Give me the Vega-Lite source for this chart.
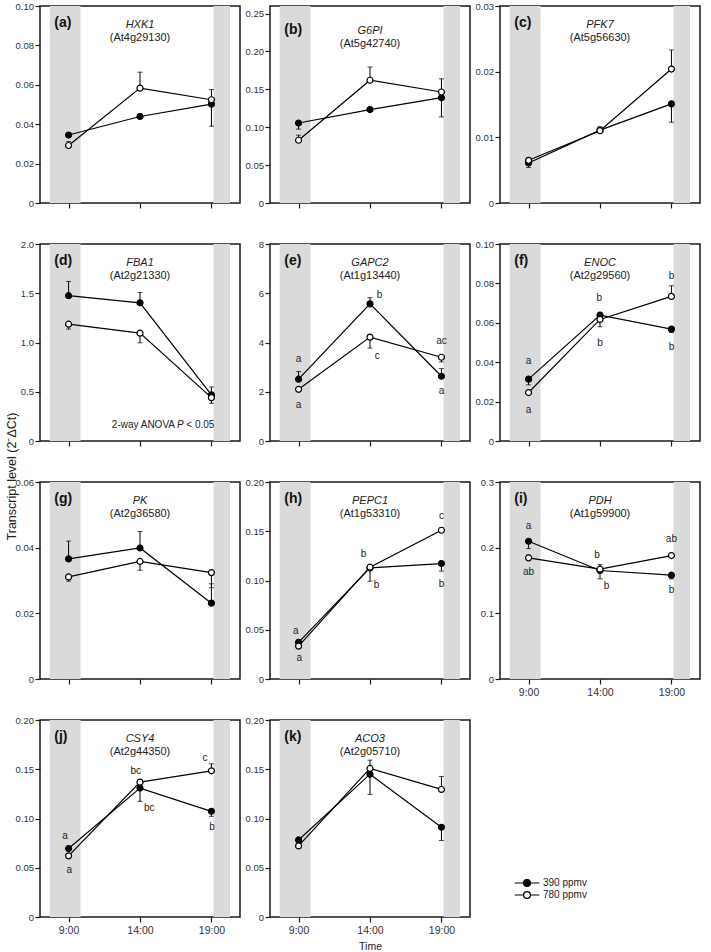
{
"$schema":"https://vega.github.io/schema/vega-lite/v6.json",
"padding":{"left":5,"top":0,"right":2,"bottom":0},
"title":{"text":"Transcript level (2⁻ΔCt)","orient":"left","anchor":"middle","fontSize":12.5,"fontWeight":"normal","color":"#222","offset":-4},
"datasets":{
"shade":[{"a":7.68,"b":9.84},{"a":19.15,"b":20.3}],
"info":[
{"g":"a","gene":"HXK1","locus":"(At4g29130)","lab":"(a)"},
{"g":"b","gene":"G6PI","locus":"(At5g42740)","lab":"(b)"},
{"g":"c","gene":"PFK7","locus":"(At5g56630)","lab":"(c)"},
{"g":"d","gene":"FBA1","locus":"(At2g21330)","lab":"(d)"},
{"g":"e","gene":"GAPC2","locus":"(At1g13440)","lab":"(e)"},
{"g":"f","gene":"ENOC","locus":"(At2g29560)","lab":"(f)"},
{"g":"g","gene":"PK","locus":"(At2g36580)","lab":"(g)"},
{"g":"h","gene":"PEPC1","locus":"(At1g53310)","lab":"(h)"},
{"g":"i","gene":"PDH","locus":"(At1g59900)","lab":"(i)"},
{"g":"j","gene":"CSY4","locus":"(At2g44350)","lab":"(j)"},
{"g":"k","gene":"ACO3","locus":"(At2g05710)","lab":"(k)"}],
"lt":[
{"g":"e","lx":9,"ly":3.35,"txt":"a"},{"g":"e","lx":9,"ly":1.46,"txt":"a"},{"g":"e","lx":14.67,"ly":5.92,"txt":"b"},{"g":"e","lx":14.5,"ly":3.46,"txt":"c"},{"g":"e","lx":19,"ly":4.07,"txt":"ac"},{"g":"e","lx":19,"ly":2.03,"txt":"a"},
{"g":"f","lx":9,"ly":0.0405,"txt":"a"},{"g":"f","lx":9,"ly":0.0158,"txt":"a"},{"g":"f","lx":13.95,"ly":0.0727,"txt":"b"},{"g":"f","lx":14,"ly":0.0498,"txt":"b"},{"g":"f","lx":19,"ly":0.0839,"txt":"b"},{"g":"f","lx":19,"ly":0.0478,"txt":"b"},
{"g":"h","lx":8.8,"ly":0.0486,"txt":"a"},{"g":"h","lx":9.05,"ly":0.0213,"txt":"a"},{"g":"h","lx":13.55,"ly":0.1264,"txt":"b"},{"g":"h","lx":14.45,"ly":0.0953,"txt":"b"},{"g":"h","lx":19,"ly":0.1652,"txt":"c"},{"g":"h","lx":19,"ly":0.0966,"txt":"b"},
{"g":"i","lx":9,"ly":0.2326,"txt":"a"},{"g":"i","lx":9,"ly":0.1632,"txt":"ab"},{"g":"i","lx":13.8,"ly":0.1895,"txt":"b"},{"g":"i","lx":14.45,"ly":0.1409,"txt":"b"},{"g":"i","lx":19,"ly":0.2139,"txt":"ab"},{"g":"i","lx":19,"ly":0.1348,"txt":"b"},
{"g":"j","lx":8.75,"ly":0.0823,"txt":"a"},{"g":"j","lx":9.05,"ly":0.0476,"txt":"a"},{"g":"j","lx":13.7,"ly":0.1487,"txt":"bc"},{"g":"j","lx":14.65,"ly":0.1106,"txt":"bc"},{"g":"j","lx":18.55,"ly":0.1619,"txt":"c"},{"g":"j","lx":19.05,"ly":0.0917,"txt":"b"}],
"d":[
{"g":"a","t":9,"s":"390 ppmv","v":0.0345,"e":0.0358},{"g":"a","t":9,"s":"780 ppmv","v":0.0292,"e":0.0312},
{"g":"a","t":14,"s":"390 ppmv","v":0.0439,"e":0.0452},{"g":"a","t":14,"s":"780 ppmv","v":0.0583,"e":0.0664},
{"g":"a","t":19,"s":"390 ppmv","v":0.0502,"e":0.039},{"g":"a","t":19,"s":"780 ppmv","v":0.0524,"e":0.0576},
{"g":"b","t":9,"s":"390 ppmv","v":0.1056,"e":0.0975},{"g":"b","t":9,"s":"780 ppmv","v":0.0828,"e":0.0895},
{"g":"b","t":14,"s":"390 ppmv","v":0.1233,"e":0.1245},{"g":"b","t":14,"s":"780 ppmv","v":0.162,"e":0.1795},
{"g":"b","t":19,"s":"390 ppmv","v":0.139,"e":0.1136},{"g":"b","t":19,"s":"780 ppmv","v":0.1465,"e":0.1639},
{"g":"c","t":9,"s":"390 ppmv","v":0.0061,"e":0.0054},{"g":"c","t":9,"s":"780 ppmv","v":0.0065,"e":0.0069},
{"g":"c","t":14,"s":"390 ppmv","v":0.0111,"e":0.0116},{"g":"c","t":14,"s":"780 ppmv","v":0.011,"e":0.0108},
{"g":"c","t":19,"s":"390 ppmv","v":0.0151,"e":0.0123},{"g":"c","t":19,"s":"780 ppmv","v":0.0204,"e":0.0233},
{"g":"d","t":9,"s":"390 ppmv","v":1.475,"e":1.62},{"g":"d","t":9,"s":"780 ppmv","v":1.186,"e":1.136},
{"g":"d","t":14,"s":"390 ppmv","v":1.403,"e":1.508},{"g":"d","t":14,"s":"780 ppmv","v":1.095,"e":0.997},
{"g":"d","t":19,"s":"390 ppmv","v":0.468,"e":0.549},{"g":"d","t":19,"s":"780 ppmv","v":0.44,"e":0.383},
{"g":"e","t":9,"s":"390 ppmv","v":2.51,"e":2.82},{"g":"e","t":9,"s":"780 ppmv","v":2.1,"e":2.0},
{"g":"e","t":14,"s":"390 ppmv","v":5.57,"e":5.82},{"g":"e","t":14,"s":"780 ppmv","v":4.22,"e":3.77},
{"g":"e","t":19,"s":"390 ppmv","v":2.63,"e":2.94},{"g":"e","t":19,"s":"780 ppmv","v":3.4,"e":3.21},
{"g":"f","t":9,"s":"390 ppmv","v":0.0314,"e":0.0285},{"g":"f","t":9,"s":"780 ppmv","v":0.0246,"e":0.024},
{"g":"f","t":14,"s":"390 ppmv","v":0.0639,"e":0.0645},{"g":"f","t":14,"s":"780 ppmv","v":0.0617,"e":0.058},
{"g":"f","t":19,"s":"390 ppmv","v":0.0568,"e":0.0551},{"g":"f","t":19,"s":"780 ppmv","v":0.0734,"e":0.0788},
{"g":"g","t":9,"s":"390 ppmv","v":0.0366,"e":0.042},{"g":"g","t":9,"s":"780 ppmv","v":0.0311,"e":0.0298},
{"g":"g","t":14,"s":"390 ppmv","v":0.0399,"e":0.0449},{"g":"g","t":14,"s":"780 ppmv","v":0.0358,"e":0.0331},
{"g":"g","t":19,"s":"390 ppmv","v":0.0231,"e":0.029},{"g":"g","t":19,"s":"780 ppmv","v":0.0324,"e":0.0278},
{"g":"h","t":9,"s":"390 ppmv","v":0.0372,"e":0.0385},{"g":"h","t":9,"s":"780 ppmv","v":0.0334,"e":0.032},
{"g":"h","t":14,"s":"390 ppmv","v":0.1128,"e":0.0993},{"g":"h","t":14,"s":"780 ppmv","v":0.1135,"e":0.1145},
{"g":"h","t":19,"s":"390 ppmv","v":0.1172,"e":0.1095},{"g":"h","t":19,"s":"780 ppmv","v":0.151,"e":0.1534},
{"g":"i","t":9,"s":"390 ppmv","v":0.2098,"e":0.1986},{"g":"i","t":9,"s":"780 ppmv","v":0.1845,"e":0.1885},
{"g":"i","t":14,"s":"390 ppmv","v":0.1652,"e":0.1525},{"g":"i","t":14,"s":"780 ppmv","v":0.1672,"e":0.1743},
{"g":"i","t":19,"s":"390 ppmv","v":0.1581,"e":0.1525},{"g":"i","t":19,"s":"780 ppmv","v":0.188,"e":0.19},
{"g":"j","t":9,"s":"390 ppmv","v":0.0695,"e":0.071},{"g":"j","t":9,"s":"780 ppmv","v":0.0621,"e":0.0635},
{"g":"j","t":14,"s":"390 ppmv","v":0.1309,"e":0.1174},{"g":"j","t":14,"s":"780 ppmv","v":0.1369,"e":0.139},
{"g":"j","t":19,"s":"390 ppmv","v":0.1073,"e":0.1022},{"g":"j","t":19,"s":"780 ppmv","v":0.1484,"e":0.1555},
{"g":"k","t":9,"s":"390 ppmv","v":0.0782,"e":0.08},{"g":"k","t":9,"s":"780 ppmv","v":0.0722,"e":0.0735},
{"g":"k","t":14,"s":"390 ppmv","v":0.145,"e":0.1245},{"g":"k","t":14,"s":"780 ppmv","v":0.1508,"e":0.1592},
{"g":"k","t":19,"s":"390 ppmv","v":0.0911,"e":0.0776},{"g":"k","t":19,"s":"780 ppmv","v":0.1295,"e":0.1427}]
},
"columns":3,
"spacing":{"row":41,"column":30},
"bounds":"flush",
"concat":[
{"width":200,"height":197,"layer":[
 {"data":{"name":"shade"},"mark":{"type":"rect","color":"#dadada"},"encoding":{"x":{"field":"a","type":"quantitative","scale":{"domain":[7.68,20.3]},"axis":{"values":[9,14,19],"labels":false,"title":null}},"x2":{"field":"b"}}},
 {"data":{"name":"d"},"transform":[{"filter":"datum.g=='a'"}],"layer":[
  {"mark":{"type":"rule","color":"#000","strokeWidth":1},"encoding":{"x":{"field":"t","type":"quantitative"},"y":{"field":"v","type":"quantitative","scale":{"domain":[0,0.1]},"axis":{"values":[0,0.02,0.04,0.06,0.08,0.1],"tickCount":20,"format":".2f","labelExpr":"datum.value==0?'0':datum.label","title":null}},"y2":{"field":"e"}}},
  {"mark":{"type":"tick","orient":"horizontal","size":5,"thickness":1,"color":"#000"},"encoding":{"x":{"field":"t","type":"quantitative"},"y":{"field":"e","type":"quantitative"}}},
  {"mark":{"type":"line","color":"#000","strokeWidth":1.2},"encoding":{"x":{"field":"t","type":"quantitative"},"y":{"field":"v","type":"quantitative"},"detail":{"field":"s"}}},
  {"mark":{"type":"point","shape":"circle","size":36,"filled":true,"opacity":1,"stroke":"#000","strokeWidth":1.2},"encoding":{"x":{"field":"t","type":"quantitative"},"y":{"field":"v","type":"quantitative"},"fill":{"field":"s","type":"nominal","title":null,"scale":{"domain":["390 ppmv","780 ppmv"],"range":["#000","#fff"]}}}}]},
 {"data":{"name":"info"},"transform":[{"filter":"datum.g=='a'"}],"layer":[
  {"mark":{"type":"text","fontSize":11,"fontStyle":"italic","color":"#222"},"encoding":{"x":{"datum":14},"y":{"datum":0.0906},"text":{"field":"gene"}}},
  {"mark":{"type":"text","fontSize":11,"color":"#222"},"encoding":{"x":{"datum":14},"y":{"datum":0.084},"text":{"field":"locus"}}},
  {"mark":{"type":"text","fontSize":14,"fontWeight":"bold","align":"left","color":"#111"},"encoding":{"x":{"datum":8.0},"y":{"datum":0.0914},"text":{"field":"lab"}}}]}
]},
{"width":200,"height":197,"layer":[
 {"data":{"name":"shade"},"mark":{"type":"rect","color":"#dadada"},"encoding":{"x":{"field":"a","type":"quantitative","scale":{"domain":[7.68,20.3]},"axis":{"values":[9,14,19],"labels":false,"title":null}},"x2":{"field":"b"}}},
 {"data":{"name":"d"},"transform":[{"filter":"datum.g=='b'"}],"layer":[
  {"mark":{"type":"rule","color":"#000","strokeWidth":1},"encoding":{"x":{"field":"t","type":"quantitative"},"y":{"field":"v","type":"quantitative","scale":{"domain":[0,0.25]},"axis":{"values":[0,0.05,0.1,0.15,0.2,0.25],"tickCount":20,"format":".2f","labelExpr":"datum.value==0?'0':datum.label","title":null}},"y2":{"field":"e"}}},
  {"mark":{"type":"tick","orient":"horizontal","size":5,"thickness":1,"color":"#000"},"encoding":{"x":{"field":"t","type":"quantitative"},"y":{"field":"e","type":"quantitative"}}},
  {"mark":{"type":"line","color":"#000","strokeWidth":1.2},"encoding":{"x":{"field":"t","type":"quantitative"},"y":{"field":"v","type":"quantitative"},"detail":{"field":"s"}}},
  {"mark":{"type":"point","shape":"circle","size":36,"filled":true,"opacity":1,"stroke":"#000","strokeWidth":1.2},"encoding":{"x":{"field":"t","type":"quantitative"},"y":{"field":"v","type":"quantitative"},"fill":{"field":"s","type":"nominal","title":null,"scale":{"domain":["390 ppmv","780 ppmv"],"range":["#000","#fff"]}}}}]},
 {"data":{"name":"info"},"transform":[{"filter":"datum.g=='b'"}],"layer":[
  {"mark":{"type":"text","fontSize":11,"fontStyle":"italic","color":"#222"},"encoding":{"x":{"datum":14},"y":{"datum":0.2265},"text":{"field":"gene"}}},
  {"mark":{"type":"text","fontSize":11,"color":"#222"},"encoding":{"x":{"datum":14},"y":{"datum":0.21},"text":{"field":"locus"}}},
  {"mark":{"type":"text","fontSize":14,"fontWeight":"bold","align":"left","color":"#111"},"encoding":{"x":{"datum":8.0},"y":{"datum":0.2285},"text":{"field":"lab"}}}]}
]},
{"width":200,"height":197,"layer":[
 {"data":{"name":"shade"},"mark":{"type":"rect","color":"#dadada"},"encoding":{"x":{"field":"a","type":"quantitative","scale":{"domain":[7.68,20.3]},"axis":{"values":[9,14,19],"labels":false,"title":null}},"x2":{"field":"b"}}},
 {"data":{"name":"d"},"transform":[{"filter":"datum.g=='c'"}],"layer":[
  {"mark":{"type":"rule","color":"#000","strokeWidth":1},"encoding":{"x":{"field":"t","type":"quantitative"},"y":{"field":"v","type":"quantitative","scale":{"domain":[0,0.03]},"axis":{"values":[0,0.01,0.02,0.03],"tickCount":20,"format":".2f","labelExpr":"datum.value==0?'0':datum.label","title":null}},"y2":{"field":"e"}}},
  {"mark":{"type":"tick","orient":"horizontal","size":5,"thickness":1,"color":"#000"},"encoding":{"x":{"field":"t","type":"quantitative"},"y":{"field":"e","type":"quantitative"}}},
  {"mark":{"type":"line","color":"#000","strokeWidth":1.2},"encoding":{"x":{"field":"t","type":"quantitative"},"y":{"field":"v","type":"quantitative"},"detail":{"field":"s"}}},
  {"mark":{"type":"point","shape":"circle","size":36,"filled":true,"opacity":1,"stroke":"#000","strokeWidth":1.2},"encoding":{"x":{"field":"t","type":"quantitative"},"y":{"field":"v","type":"quantitative"},"fill":{"field":"s","type":"nominal","title":null,"scale":{"domain":["390 ppmv","780 ppmv"],"range":["#000","#fff"]}}}}]},
 {"data":{"name":"info"},"transform":[{"filter":"datum.g=='c'"}],"layer":[
  {"mark":{"type":"text","fontSize":11,"fontStyle":"italic","color":"#222"},"encoding":{"x":{"datum":14},"y":{"datum":0.02718},"text":{"field":"gene"}}},
  {"mark":{"type":"text","fontSize":11,"color":"#222"},"encoding":{"x":{"datum":14},"y":{"datum":0.0252},"text":{"field":"locus"}}},
  {"mark":{"type":"text","fontSize":14,"fontWeight":"bold","align":"left","color":"#111"},"encoding":{"x":{"datum":8.0},"y":{"datum":0.02742},"text":{"field":"lab"}}}]}
]},
{"width":200,"height":197,"layer":[
 {"data":{"name":"shade"},"mark":{"type":"rect","color":"#dadada"},"encoding":{"x":{"field":"a","type":"quantitative","scale":{"domain":[7.68,20.3]},"axis":{"values":[9,14,19],"labels":false,"title":null}},"x2":{"field":"b"}}},
 {"data":{"name":"d"},"transform":[{"filter":"datum.g=='d'"}],"layer":[
  {"mark":{"type":"rule","color":"#000","strokeWidth":1},"encoding":{"x":{"field":"t","type":"quantitative"},"y":{"field":"v","type":"quantitative","scale":{"domain":[0,2]},"axis":{"values":[0,0.5,1,1.5,2],"tickCount":20,"format":".1f","labelExpr":"datum.value==0?'0':datum.label","title":null}},"y2":{"field":"e"}}},
  {"mark":{"type":"tick","orient":"horizontal","size":5,"thickness":1,"color":"#000"},"encoding":{"x":{"field":"t","type":"quantitative"},"y":{"field":"e","type":"quantitative"}}},
  {"mark":{"type":"line","color":"#000","strokeWidth":1.2},"encoding":{"x":{"field":"t","type":"quantitative"},"y":{"field":"v","type":"quantitative"},"detail":{"field":"s"}}},
  {"mark":{"type":"point","shape":"circle","size":36,"filled":true,"opacity":1,"stroke":"#000","strokeWidth":1.2},"encoding":{"x":{"field":"t","type":"quantitative"},"y":{"field":"v","type":"quantitative"},"fill":{"field":"s","type":"nominal","title":null,"scale":{"domain":["390 ppmv","780 ppmv"],"range":["#000","#fff"]}}}}]},
 {"data":{"name":"info"},"transform":[{"filter":"datum.g=='d'"}],"layer":[
  {"mark":{"type":"text","fontSize":11,"fontStyle":"italic","color":"#222"},"encoding":{"x":{"datum":14},"y":{"datum":1.812},"text":{"field":"gene"}}},
  {"mark":{"type":"text","fontSize":11,"color":"#222"},"encoding":{"x":{"datum":14},"y":{"datum":1.68},"text":{"field":"locus"}}},
  {"mark":{"type":"text","fontSize":14,"fontWeight":"bold","align":"left","color":"#111"},"encoding":{"x":{"datum":8.0},"y":{"datum":1.828},"text":{"field":"lab"}}}]},
 {"data":{"values":[{"p1":"2-way ANOVA","p2":"P","p3":"< 0.05"}]},"layer":[
  {"mark":{"type":"text","fontSize":10,"align":"right","color":"#222"},"encoding":{"x":{"datum":16.45},"y":{"datum":0.16},"text":{"field":"p1"}}},
  {"mark":{"type":"text","fontSize":10,"fontStyle":"italic","color":"#222"},"encoding":{"x":{"datum":16.83},"y":{"datum":0.16},"text":{"field":"p2"}}},
  {"mark":{"type":"text","fontSize":10,"align":"left","color":"#222"},"encoding":{"x":{"datum":17.24},"y":{"datum":0.16},"text":{"field":"p3"}}}]}
]},
{"width":200,"height":197,"layer":[
 {"data":{"name":"shade"},"mark":{"type":"rect","color":"#dadada"},"encoding":{"x":{"field":"a","type":"quantitative","scale":{"domain":[7.68,20.3]},"axis":{"values":[9,14,19],"labels":false,"title":null}},"x2":{"field":"b"}}},
 {"data":{"name":"d"},"transform":[{"filter":"datum.g=='e'"}],"layer":[
  {"mark":{"type":"rule","color":"#000","strokeWidth":1},"encoding":{"x":{"field":"t","type":"quantitative"},"y":{"field":"v","type":"quantitative","scale":{"domain":[0,8]},"axis":{"values":[0,2,4,6,8],"tickCount":20,"format":"d","title":null}},"y2":{"field":"e"}}},
  {"mark":{"type":"tick","orient":"horizontal","size":5,"thickness":1,"color":"#000"},"encoding":{"x":{"field":"t","type":"quantitative"},"y":{"field":"e","type":"quantitative"}}},
  {"mark":{"type":"line","color":"#000","strokeWidth":1.2},"encoding":{"x":{"field":"t","type":"quantitative"},"y":{"field":"v","type":"quantitative"},"detail":{"field":"s"}}},
  {"mark":{"type":"point","shape":"circle","size":36,"filled":true,"opacity":1,"stroke":"#000","strokeWidth":1.2},"encoding":{"x":{"field":"t","type":"quantitative"},"y":{"field":"v","type":"quantitative"},"fill":{"field":"s","type":"nominal","title":null,"scale":{"domain":["390 ppmv","780 ppmv"],"range":["#000","#fff"]}}}}]},
 {"data":{"name":"lt"},"transform":[{"filter":"datum.g=='e'"}],"mark":{"type":"text","fontSize":10,"color":"#222"},"encoding":{"x":{"field":"lx","type":"quantitative"},"y":{"field":"ly","type":"quantitative"},"text":{"field":"txt"}}},
 {"data":{"name":"info"},"transform":[{"filter":"datum.g=='e'"}],"layer":[
  {"mark":{"type":"text","fontSize":11,"fontStyle":"italic","color":"#222"},"encoding":{"x":{"datum":14},"y":{"datum":7.248},"text":{"field":"gene"}}},
  {"mark":{"type":"text","fontSize":11,"color":"#222"},"encoding":{"x":{"datum":14},"y":{"datum":6.72},"text":{"field":"locus"}}},
  {"mark":{"type":"text","fontSize":14,"fontWeight":"bold","align":"left","color":"#111"},"encoding":{"x":{"datum":8.0},"y":{"datum":7.312},"text":{"field":"lab"}}}]}
]},
{"width":200,"height":197,"layer":[
 {"data":{"name":"shade"},"mark":{"type":"rect","color":"#dadada"},"encoding":{"x":{"field":"a","type":"quantitative","scale":{"domain":[7.68,20.3]},"axis":{"values":[9,14,19],"labels":false,"title":null}},"x2":{"field":"b"}}},
 {"data":{"name":"d"},"transform":[{"filter":"datum.g=='f'"}],"layer":[
  {"mark":{"type":"rule","color":"#000","strokeWidth":1},"encoding":{"x":{"field":"t","type":"quantitative"},"y":{"field":"v","type":"quantitative","scale":{"domain":[0,0.1]},"axis":{"values":[0,0.02,0.04,0.06,0.08,0.1],"tickCount":20,"format":".2f","labelExpr":"datum.value==0?'0':datum.label","title":null}},"y2":{"field":"e"}}},
  {"mark":{"type":"tick","orient":"horizontal","size":5,"thickness":1,"color":"#000"},"encoding":{"x":{"field":"t","type":"quantitative"},"y":{"field":"e","type":"quantitative"}}},
  {"mark":{"type":"line","color":"#000","strokeWidth":1.2},"encoding":{"x":{"field":"t","type":"quantitative"},"y":{"field":"v","type":"quantitative"},"detail":{"field":"s"}}},
  {"mark":{"type":"point","shape":"circle","size":36,"filled":true,"opacity":1,"stroke":"#000","strokeWidth":1.2},"encoding":{"x":{"field":"t","type":"quantitative"},"y":{"field":"v","type":"quantitative"},"fill":{"field":"s","type":"nominal","title":null,"scale":{"domain":["390 ppmv","780 ppmv"],"range":["#000","#fff"]}}}}]},
 {"data":{"name":"lt"},"transform":[{"filter":"datum.g=='f'"}],"mark":{"type":"text","fontSize":10,"color":"#222"},"encoding":{"x":{"field":"lx","type":"quantitative"},"y":{"field":"ly","type":"quantitative"},"text":{"field":"txt"}}},
 {"data":{"name":"info"},"transform":[{"filter":"datum.g=='f'"}],"layer":[
  {"mark":{"type":"text","fontSize":11,"fontStyle":"italic","color":"#222"},"encoding":{"x":{"datum":14},"y":{"datum":0.0906},"text":{"field":"gene"}}},
  {"mark":{"type":"text","fontSize":11,"color":"#222"},"encoding":{"x":{"datum":14},"y":{"datum":0.084},"text":{"field":"locus"}}},
  {"mark":{"type":"text","fontSize":14,"fontWeight":"bold","align":"left","color":"#111"},"encoding":{"x":{"datum":8.0},"y":{"datum":0.0914},"text":{"field":"lab"}}}]}
]},
{"width":200,"height":197,"layer":[
 {"data":{"name":"shade"},"mark":{"type":"rect","color":"#dadada"},"encoding":{"x":{"field":"a","type":"quantitative","scale":{"domain":[7.68,20.3]},"axis":{"values":[9,14,19],"labels":false,"title":null}},"x2":{"field":"b"}}},
 {"data":{"name":"d"},"transform":[{"filter":"datum.g=='g'"}],"layer":[
  {"mark":{"type":"rule","color":"#000","strokeWidth":1},"encoding":{"x":{"field":"t","type":"quantitative"},"y":{"field":"v","type":"quantitative","scale":{"domain":[0,0.06]},"axis":{"values":[0,0.02,0.04,0.06],"tickCount":20,"format":".2f","labelExpr":"datum.value==0?'0':datum.label","title":null}},"y2":{"field":"e"}}},
  {"mark":{"type":"tick","orient":"horizontal","size":5,"thickness":1,"color":"#000"},"encoding":{"x":{"field":"t","type":"quantitative"},"y":{"field":"e","type":"quantitative"}}},
  {"mark":{"type":"line","color":"#000","strokeWidth":1.2},"encoding":{"x":{"field":"t","type":"quantitative"},"y":{"field":"v","type":"quantitative"},"detail":{"field":"s"}}},
  {"mark":{"type":"point","shape":"circle","size":36,"filled":true,"opacity":1,"stroke":"#000","strokeWidth":1.2},"encoding":{"x":{"field":"t","type":"quantitative"},"y":{"field":"v","type":"quantitative"},"fill":{"field":"s","type":"nominal","title":null,"scale":{"domain":["390 ppmv","780 ppmv"],"range":["#000","#fff"]}}}}]},
 {"data":{"name":"info"},"transform":[{"filter":"datum.g=='g'"}],"layer":[
  {"mark":{"type":"text","fontSize":11,"fontStyle":"italic","color":"#222"},"encoding":{"x":{"datum":14},"y":{"datum":0.05436},"text":{"field":"gene"}}},
  {"mark":{"type":"text","fontSize":11,"color":"#222"},"encoding":{"x":{"datum":14},"y":{"datum":0.0504},"text":{"field":"locus"}}},
  {"mark":{"type":"text","fontSize":14,"fontWeight":"bold","align":"left","color":"#111"},"encoding":{"x":{"datum":8.0},"y":{"datum":0.05484},"text":{"field":"lab"}}}]}
]},
{"width":200,"height":197,"layer":[
 {"data":{"name":"shade"},"mark":{"type":"rect","color":"#dadada"},"encoding":{"x":{"field":"a","type":"quantitative","scale":{"domain":[7.68,20.3]},"axis":{"values":[9,14,19],"labels":false,"title":null}},"x2":{"field":"b"}}},
 {"data":{"name":"d"},"transform":[{"filter":"datum.g=='h'"}],"layer":[
  {"mark":{"type":"rule","color":"#000","strokeWidth":1},"encoding":{"x":{"field":"t","type":"quantitative"},"y":{"field":"v","type":"quantitative","scale":{"domain":[0,0.2]},"axis":{"values":[0,0.05,0.1,0.15,0.2],"tickCount":20,"format":".2f","labelExpr":"datum.value==0?'0':datum.label","title":null}},"y2":{"field":"e"}}},
  {"mark":{"type":"tick","orient":"horizontal","size":5,"thickness":1,"color":"#000"},"encoding":{"x":{"field":"t","type":"quantitative"},"y":{"field":"e","type":"quantitative"}}},
  {"mark":{"type":"line","color":"#000","strokeWidth":1.2},"encoding":{"x":{"field":"t","type":"quantitative"},"y":{"field":"v","type":"quantitative"},"detail":{"field":"s"}}},
  {"mark":{"type":"point","shape":"circle","size":36,"filled":true,"opacity":1,"stroke":"#000","strokeWidth":1.2},"encoding":{"x":{"field":"t","type":"quantitative"},"y":{"field":"v","type":"quantitative"},"fill":{"field":"s","type":"nominal","title":null,"scale":{"domain":["390 ppmv","780 ppmv"],"range":["#000","#fff"]}}}}]},
 {"data":{"name":"lt"},"transform":[{"filter":"datum.g=='h'"}],"mark":{"type":"text","fontSize":10,"color":"#222"},"encoding":{"x":{"field":"lx","type":"quantitative"},"y":{"field":"ly","type":"quantitative"},"text":{"field":"txt"}}},
 {"data":{"name":"info"},"transform":[{"filter":"datum.g=='h'"}],"layer":[
  {"mark":{"type":"text","fontSize":11,"fontStyle":"italic","color":"#222"},"encoding":{"x":{"datum":14},"y":{"datum":0.1812},"text":{"field":"gene"}}},
  {"mark":{"type":"text","fontSize":11,"color":"#222"},"encoding":{"x":{"datum":14},"y":{"datum":0.168},"text":{"field":"locus"}}},
  {"mark":{"type":"text","fontSize":14,"fontWeight":"bold","align":"left","color":"#111"},"encoding":{"x":{"datum":8.0},"y":{"datum":0.1828},"text":{"field":"lab"}}}]}
]},
{"width":200,"height":197,"layer":[
 {"data":{"name":"shade"},"mark":{"type":"rect","color":"#dadada"},"encoding":{"x":{"field":"a","type":"quantitative","scale":{"domain":[7.68,20.3]},"axis":{"values":[9,14,19],"labelExpr":"datum.value + ':00'","title":null}},"x2":{"field":"b"}}},
 {"data":{"name":"d"},"transform":[{"filter":"datum.g=='i'"}],"layer":[
  {"mark":{"type":"rule","color":"#000","strokeWidth":1},"encoding":{"x":{"field":"t","type":"quantitative"},"y":{"field":"v","type":"quantitative","scale":{"domain":[0,0.3]},"axis":{"values":[0,0.1,0.2,0.3],"tickCount":20,"format":".1f","labelExpr":"datum.value==0?'0':datum.label","title":null}},"y2":{"field":"e"}}},
  {"mark":{"type":"tick","orient":"horizontal","size":5,"thickness":1,"color":"#000"},"encoding":{"x":{"field":"t","type":"quantitative"},"y":{"field":"e","type":"quantitative"}}},
  {"mark":{"type":"line","color":"#000","strokeWidth":1.2},"encoding":{"x":{"field":"t","type":"quantitative"},"y":{"field":"v","type":"quantitative"},"detail":{"field":"s"}}},
  {"mark":{"type":"point","shape":"circle","size":36,"filled":true,"opacity":1,"stroke":"#000","strokeWidth":1.2},"encoding":{"x":{"field":"t","type":"quantitative"},"y":{"field":"v","type":"quantitative"},"fill":{"field":"s","type":"nominal","title":null,"scale":{"domain":["390 ppmv","780 ppmv"],"range":["#000","#fff"]}}}}]},
 {"data":{"name":"lt"},"transform":[{"filter":"datum.g=='i'"}],"mark":{"type":"text","fontSize":10,"color":"#222"},"encoding":{"x":{"field":"lx","type":"quantitative"},"y":{"field":"ly","type":"quantitative"},"text":{"field":"txt"}}},
 {"data":{"name":"info"},"transform":[{"filter":"datum.g=='i'"}],"layer":[
  {"mark":{"type":"text","fontSize":11,"fontStyle":"italic","color":"#222"},"encoding":{"x":{"datum":14},"y":{"datum":0.2718},"text":{"field":"gene"}}},
  {"mark":{"type":"text","fontSize":11,"color":"#222"},"encoding":{"x":{"datum":14},"y":{"datum":0.252},"text":{"field":"locus"}}},
  {"mark":{"type":"text","fontSize":14,"fontWeight":"bold","align":"left","color":"#111"},"encoding":{"x":{"datum":8.0},"y":{"datum":0.2742},"text":{"field":"lab"}}}]}
]},
{"width":200,"height":197,"layer":[
 {"data":{"name":"shade"},"mark":{"type":"rect","color":"#dadada"},"encoding":{"x":{"field":"a","type":"quantitative","scale":{"domain":[7.68,20.3]},"axis":{"values":[9,14,19],"labelExpr":"datum.value + ':00'","title":null}},"x2":{"field":"b"}}},
 {"data":{"name":"d"},"transform":[{"filter":"datum.g=='j'"}],"layer":[
  {"mark":{"type":"rule","color":"#000","strokeWidth":1},"encoding":{"x":{"field":"t","type":"quantitative"},"y":{"field":"v","type":"quantitative","scale":{"domain":[0,0.2]},"axis":{"values":[0,0.05,0.1,0.15,0.2],"tickCount":20,"format":".2f","labelExpr":"datum.value==0?'0':datum.label","title":null}},"y2":{"field":"e"}}},
  {"mark":{"type":"tick","orient":"horizontal","size":5,"thickness":1,"color":"#000"},"encoding":{"x":{"field":"t","type":"quantitative"},"y":{"field":"e","type":"quantitative"}}},
  {"mark":{"type":"line","color":"#000","strokeWidth":1.2},"encoding":{"x":{"field":"t","type":"quantitative"},"y":{"field":"v","type":"quantitative"},"detail":{"field":"s"}}},
  {"mark":{"type":"point","shape":"circle","size":36,"filled":true,"opacity":1,"stroke":"#000","strokeWidth":1.2},"encoding":{"x":{"field":"t","type":"quantitative"},"y":{"field":"v","type":"quantitative"},"fill":{"field":"s","type":"nominal","title":null,"scale":{"domain":["390 ppmv","780 ppmv"],"range":["#000","#fff"]}}}}]},
 {"data":{"name":"lt"},"transform":[{"filter":"datum.g=='j'"}],"mark":{"type":"text","fontSize":10,"color":"#222"},"encoding":{"x":{"field":"lx","type":"quantitative"},"y":{"field":"ly","type":"quantitative"},"text":{"field":"txt"}}},
 {"data":{"name":"info"},"transform":[{"filter":"datum.g=='j'"}],"layer":[
  {"mark":{"type":"text","fontSize":11,"fontStyle":"italic","color":"#222"},"encoding":{"x":{"datum":14},"y":{"datum":0.1812},"text":{"field":"gene"}}},
  {"mark":{"type":"text","fontSize":11,"color":"#222"},"encoding":{"x":{"datum":14},"y":{"datum":0.168},"text":{"field":"locus"}}},
  {"mark":{"type":"text","fontSize":14,"fontWeight":"bold","align":"left","color":"#111"},"encoding":{"x":{"datum":8.0},"y":{"datum":0.1828},"text":{"field":"lab"}}}]}
]},
{"width":200,"height":197,"layer":[
 {"data":{"name":"shade"},"mark":{"type":"rect","color":"#dadada"},"encoding":{"x":{"field":"a","type":"quantitative","scale":{"domain":[7.68,20.3]},"axis":{"values":[9,14,19],"labelExpr":"datum.value + ':00'","title":"Time"}},"x2":{"field":"b"}}},
 {"data":{"name":"d"},"transform":[{"filter":"datum.g=='k'"}],"layer":[
  {"mark":{"type":"rule","color":"#000","strokeWidth":1},"encoding":{"x":{"field":"t","type":"quantitative"},"y":{"field":"v","type":"quantitative","scale":{"domain":[0,0.2]},"axis":{"values":[0,0.05,0.1,0.15,0.2],"tickCount":20,"format":".2f","labelExpr":"datum.value==0?'0':datum.label","title":null}},"y2":{"field":"e"}}},
  {"mark":{"type":"tick","orient":"horizontal","size":5,"thickness":1,"color":"#000"},"encoding":{"x":{"field":"t","type":"quantitative"},"y":{"field":"e","type":"quantitative"}}},
  {"mark":{"type":"line","color":"#000","strokeWidth":1.2},"encoding":{"x":{"field":"t","type":"quantitative"},"y":{"field":"v","type":"quantitative"},"detail":{"field":"s"}}},
  {"mark":{"type":"point","shape":"circle","size":36,"filled":true,"opacity":1,"stroke":"#000","strokeWidth":1.2},"encoding":{"x":{"field":"t","type":"quantitative"},"y":{"field":"v","type":"quantitative"},"fill":{"field":"s","type":"nominal","title":null,"scale":{"domain":["390 ppmv","780 ppmv"],"range":["#000","#fff"]}}}}]},
 {"data":{"name":"info"},"transform":[{"filter":"datum.g=='k'"}],"layer":[
  {"mark":{"type":"text","fontSize":11,"fontStyle":"italic","color":"#222"},"encoding":{"x":{"datum":14},"y":{"datum":0.1812},"text":{"field":"gene"}}},
  {"mark":{"type":"text","fontSize":11,"color":"#222"},"encoding":{"x":{"datum":14},"y":{"datum":0.168},"text":{"field":"locus"}}},
  {"mark":{"type":"text","fontSize":14,"fontWeight":"bold","align":"left","color":"#111"},"encoding":{"x":{"datum":8.0},"y":{"datum":0.1828},"text":{"field":"lab"}}}]}
]}
],
"config":{
 "font":"Liberation Sans",
 "view":{"stroke":"#1a1a1a","strokeWidth":1.5},
 "axis":{"grid":false,"domain":false,"ticks":true,"tickSize":5,"tickColor":"#1a1a1a","tickWidth":1.2,"labelFontSize":9.5,"labelColor":"#333","labelPadding":1.5,"labelOverlap":false,"labelFlush":false,"minExtent":0,"titleFontWeight":"normal","titleFontSize":10.5,"titleColor":"#222","titlePadding":6},
 "axisY":{"minExtent":0},
 "axisX":{"labelFontSize":10.5,"labelPadding":3},
 "legend":{"orient":"none","legendX":474,"legendY":871,"symbolType":"M-1,0H-0.28M0.28,0H1M-0.28,0A0.28,0.28 0 1,1 0.28,0A0.28,0.28 0 1,1 -0.28,0Z","symbolSize":600,"symbolStrokeColor":"#000","symbolStrokeWidth":1.2,"labelFontSize":10,"labelColor":"#222","labelOffset":3,"clipHeight":12,"rowPadding":0,"padding":0}
}
}
